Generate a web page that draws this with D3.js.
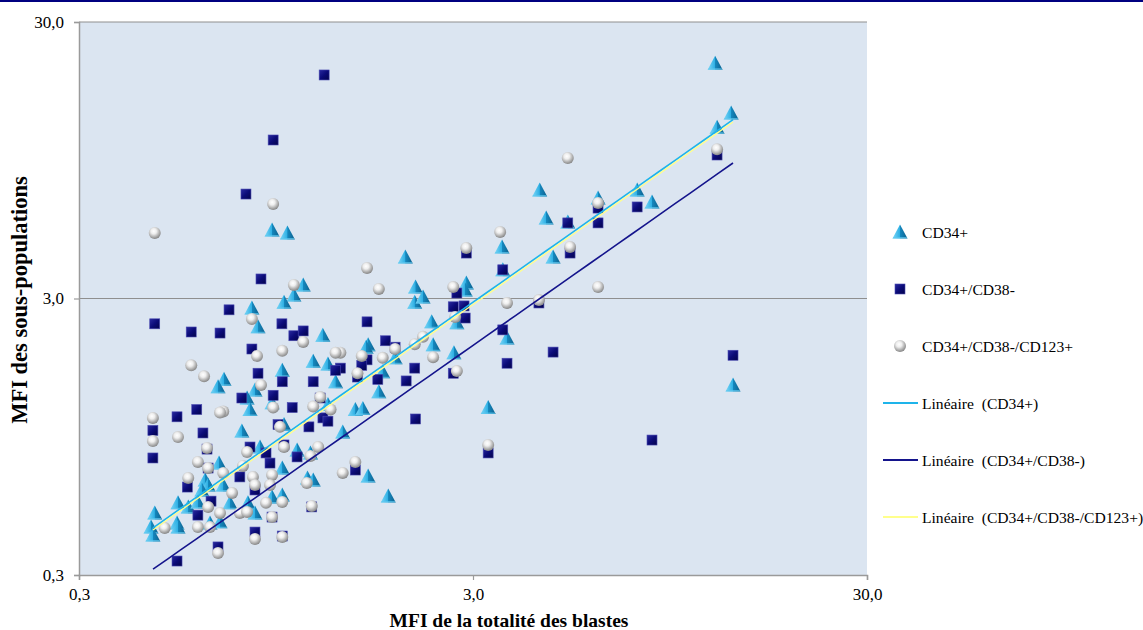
<!DOCTYPE html>
<html>
<head>
<meta charset="utf-8">
<script src="https://cdn.jsdelivr.net/npm/d3@7/dist/d3.min.js"></script>
<style>
  body { margin: 0; background: #ffffff; }
  svg { display: block; }
</style>
</head>
<body>
<svg id="chart" width="1143" height="630"></svg>
<script>
// ---------- DATA ----------
const tickValues = [0.3, 3, 30];
const tickLabels = ["0,3", "3,0", "30,0"];

const seriesNames = ["CD34+", "CD34+/CD38-", "CD34+/CD38-/CD123+"];
const trendNames = ["Linéaire  (CD34+)", "Linéaire  (CD34+/CD38-)", "Linéaire  (CD34+/CD38-/CD123+)"];

// CD34+ : [MFI blastes, MFI sous-population]
const cd34 = [
  [12.35,21.3],[13.56,14.06],[12.49,12.5],[4.43,7.41],[4.60,5.87],[5.22,5.67],[6.23,6.93],
  [7.83,7.41],[8.54,6.70],[4.79,4.24],[3.555,4.61],[3.66,2.16],[13.71,1.46],[3.57,3.81],
  [2.02,4.24],[2.144,3.30],[2.134,2.91],[2.24,3.04],[2.885,3.41],[2.866,3.22],[2.73,2.45],
  [2.356,2.47],[2.376,2.04],[1.625,2.04],[1.903,1.83],[2.683,1.91],[1.77,1.63],[1.73,1.38],
  [1.508,1.19],[1.576,1.20],[3.278,1.21],[1.401,0.987],[1.625,0.684],[1.828,0.579],[0.927,5.31],
  [1.014,5.18],[1.112,3.36],[1.053,3.09],[0.994,2.91],[0.824,2.77],[0.854,2.37],[1.247,2.21],
  [1.179,1.78],[1.285,1.74],[0.984,1.65],[1.344,1.50],[0.700,1.53],[1.606,2.00],[0.676,1.44],
  [0.839,1.40],[0.801,1.31],[0.815,1.19],[0.927,1.26],[1.285,1.24],[0.777,0.995],[0.994,1.05],
  [0.680,0.762],[0.864,0.871],[0.984,0.731],[1.073,0.850],[1.160,0.829],[1.140,0.673],[1.179,0.662],
  [0.627,0.662],[0.638,0.635],[0.697,0.635],[0.615,0.609],[0.535,0.547],[0.568,0.529],
  [0.601,0.551],[0.725,0.547],[0.805,0.547],[0.839,0.503],[0.984,0.584],[0.927,0.574],
  [0.467,0.503],[0.457,0.447],[0.462,0.419],[0.532,0.463],[0.535,0.447],[0.645,0.463],[0.684,0.467]
];

// CD34+/CD38-
const cd34cd38 = [
  [12.49,9.91],[7.83,6.43],[6.23,6.37],[6.23,5.63],[5.22,5.63],[5.29,4.38],[4.41,2.89],
  [3.57,2.31],[3.66,1.75],[4.79,1.92],[13.71,1.87],[8.54,0.923],[3.57,3.81],[2.885,4.38],
  [2.73,3.14],[2.673,2.80],[2.847,2.82],[2.866,2.55],[1.615,2.47],[1.799,2.11],[1.903,2.00],
  [1.615,1.80],[1.566,1.72],[2.134,1.68],[2.03,1.51],[1.72,1.53],[1.527,1.56],[2.673,1.61],
  [2.144,1.10],[3.278,0.829],[1.508,0.719],[1.382,1.68],[1.257,19.3],[0.933,11.23],[0.796,7.16],
  [0.869,3.53],[0.721,2.73],[0.467,2.43],[0.578,2.27],[0.684,2.25],[0.982,2.43],[1.053,2.20],
  [1.112,2.29],[0.824,1.97],[0.854,1.61],[0.984,1.50],[1.179,1.50],[1.344,1.65],[0.933,1.34],
  [0.777,1.31],[0.597,1.19],[0.532,1.12],[1.043,1.21],[1.228,1.31],[0.462,1.00],[0.619,0.979],
  [0.462,0.795],[1.150,1.03],[1.248,1.11],[1.285,1.08],[0.960,1.05],[0.815,0.871],[0.895,0.829],
  [0.916,0.762],[0.994,0.886],[1.073,0.802],[0.634,0.856],[0.638,0.731],[0.768,0.679],
  [0.601,0.494],[0.649,0.555],[0.565,0.624],[0.839,0.609],[0.839,0.429],[0.984,0.415],
  [0.676,0.379],[0.532,0.337],[1.169,0.529],[0.927,0.486]
];

// CD34+/CD38-/CD123+
const cd34cd38cd123 = [
  [12.49,10.4],[5.22,9.67],[6.23,6.65],[5.29,4.61],[6.23,3.30],[4.41,2.96],[3.66,2.89],
  [3.516,5.22],[2.885,4.57],[1.615,3.87],[1.73,3.25],[2.673,3.30],[2.703,2.57],[2.24,2.18],
  [2.134,2.05],[1.903,1.97],[1.77,1.83],[2.376,1.84],[1.566,1.86],[1.527,1.61],[2.73,1.64],
  [3.278,0.886],[1.508,0.769],[1.401,0.702],[1.382,1.91],[0.933,6.59],[0.467,5.18],[1.053,3.36],
  [0.824,2.53],[0.984,1.94],[1.112,2.09],[1.344,1.91],[0.849,1.86],[0.578,1.72],[0.623,1.57],
  [0.869,1.46],[0.697,1.17],[0.684,1.16],[0.933,1.21],[1.179,1.22],[1.228,1.32],[1.305,1.19],
  [0.462,1.11],[0.535,0.946],[0.462,0.915],[0.971,1.03],[0.634,0.864],[0.801,0.835],
  [0.994,0.871],[1.214,0.871],[1.160,0.808],[0.601,0.769],[0.638,0.731],[0.697,0.702],
  [0.829,0.679],[0.927,0.690],[0.568,0.673],[0.782,0.744],[1.136,0.645],[0.839,0.635],
  [0.916,0.635],[0.734,0.594],[0.638,0.529],[0.684,0.503],[0.768,0.503],[0.801,0.507],
  [0.895,0.547],[0.984,0.551],[1.169,0.533],[0.495,0.444],[0.601,0.447],[0.645,0.447],
  [0.927,0.486],[0.839,0.405],[0.984,0.412],[0.676,0.360]
];

// Linear trendlines y = slope * x + intercept
const trendSlopes = [0.971, 0.676, 0.952];
const trendIntercepts = [-0.005, 0.0024, -0.0037];
const trendXRange = [0.4624, 13.71];

// ---------- CHART ----------
const W = 1143, H = 630;
const FONT = "'Liberation Serif', 'Times New Roman', serif";
const svg = d3.select("#chart");
const x = d3.scaleLog().domain([0.3, 30]).range([79, 867]);
const y = d3.scaleLog().domain([0.3, 30]).range([575, 22]);

const defs = svg.append("defs");
const tg = defs.append("linearGradient").attr("id", "triG").attr("x1", "0").attr("x2", "1").attr("y1", "0").attr("y2", "0");
tg.append("stop").attr("offset", "0").attr("stop-color", "#7fd8f8");
tg.append("stop").attr("offset", "0.48").attr("stop-color", "#2fb0e4");
tg.append("stop").attr("offset", "0.52").attr("stop-color", "#1587bd");
tg.append("stop").attr("offset", "1").attr("stop-color", "#0c5f8c");
const sg = defs.append("linearGradient").attr("id", "sqG").attr("x1", "0").attr("x2", "1").attr("y1", "0").attr("y2", "1");
sg.append("stop").attr("offset", "0").attr("stop-color", "#2a2aa0");
sg.append("stop").attr("offset", "0.5").attr("stop-color", "#0b0b78");
sg.append("stop").attr("offset", "1").attr("stop-color", "#04044a");
const bg = defs.append("radialGradient").attr("id", "sphG").attr("cx", "0.42").attr("cy", "0.36").attr("r", "0.65");
bg.append("stop").attr("offset", "0").attr("stop-color", "#ffffff");
bg.append("stop").attr("offset", "0.35").attr("stop-color", "#eeeeee");
bg.append("stop").attr("offset", "0.8").attr("stop-color", "#a4a4a4");
bg.append("stop").attr("offset", "1").attr("stop-color", "#858585");

// top navy rule
svg.append("rect").attr("x", 0).attr("y", 0).attr("width", W).attr("height", 2).attr("fill", "#000080");

// plot area
svg.append("rect")
  .attr("x", x(0.3)).attr("y", y(30))
  .attr("width", x(30) - x(0.3)).attr("height", y(0.3) - y(30))
  .attr("fill", "#dbe5f1");

// horizontal gridlines
svg.append("g").selectAll("line").data(tickValues.slice(1)).join("line")
  .attr("x1", x(0.3)).attr("x2", x(30))
  .attr("y1", d => y(d)).attr("y2", d => y(d))
  .attr("stroke", "#8f8f8f").attr("stroke-width", 1.2);

const fmt = d => tickLabels[tickValues.indexOf(d)];

const yAxis = svg.append("g").attr("transform", `translate(${x(0.3)},0)`)
  .call(d3.axisLeft(y).tickValues(tickValues).tickFormat(fmt).tickSize(5).tickPadding(10));
const xAxis = svg.append("g").attr("transform", `translate(0,${y(0.3)})`)
  .call(d3.axisBottom(x).tickValues(tickValues).tickFormat(fmt).tickSize(5).tickPadding(8));
[xAxis, yAxis].forEach(g => {
  g.attr("font-family", FONT);
  g.select(".domain").attr("stroke", "#9a9a9a").attr("stroke-width", 1.5);
  g.selectAll(".tick line").attr("stroke", "#9a9a9a").attr("stroke-width", 1.2);
  g.selectAll(".tick text").attr("fill", "#000").attr("font-size", "17px").attr("font-family", FONT);
});

// marker drawers
function drawTri(g) {
  g.append("path").attr("d", "M0,-7.5L7.5,6.5L-7.5,6.5Z").attr("fill", "url(#triG)");
  g.append("path").attr("d", "M-7.5,6.5L7.5,6.5L6.5,5L-6.5,5Z").attr("fill", "#5fc8ee").attr("opacity", 0.7);
}
function drawSq(g) {
  g.append("rect").attr("x", -5).attr("y", -5).attr("width", 10).attr("height", 10)
    .attr("fill", "url(#sqG)").attr("stroke", "#4a4ab0").attr("stroke-width", 0.6);
}
function drawSph(g) {
  g.append("circle").attr("r", 6).attr("fill", "url(#sphG)");
}

const layers = [
  { data: cd34, draw: drawTri },
  { data: cd34cd38, draw: drawSq },
  { data: cd34cd38cd123, draw: drawSph }
];
layers.forEach(L => {
  const g = svg.append("g");
  g.selectAll("g").data(L.data).join("g")
    .attr("transform", d => `translate(${x(d[0])},${y(d[1])})`)
    .each(function() { L.draw(d3.select(this)); });
});

// trendlines
const trendColors = ["#1eb4ea", "#14148c", "#ffff8c"];
const trendWidths = [1.6, 1.6, 1.4];
const samples = d3.range(0, 41).map(i => trendXRange[0] * Math.pow(trendXRange[1] / trendXRange[0], i / 40));
const line = d3.line().x(d => x(d[0])).y(d => y(d[1]));
trendSlopes.forEach((s, i) => {
  const pts = samples.map(v => [v, s * v + trendIntercepts[i]]);
  svg.append("path").attr("d", line(pts)).attr("fill", "none")
    .attr("stroke", trendColors[i]).attr("stroke-width", trendWidths[i]);
});

// legend
const legend = svg.append("g").attr("font-family", FONT);
const legY = [232, 289, 346, 403, 460, 517];
const drawers = [drawTri, drawSq, drawSph];
seriesNames.forEach((n, i) => {
  const g = legend.append("g").attr("transform", `translate(900,${legY[i]})`);
  drawers[i](g);
  legend.append("text").attr("x", 922).attr("y", legY[i] + 5.5).attr("font-size", "15.6px")
    .attr("font-family", FONT).attr("fill", "#000").text(n);
});
trendNames.forEach((n, i) => {
  const yy = legY[i + 3];
  legend.append("line").attr("x1", 883).attr("x2", 918).attr("y1", yy).attr("y2", yy)
    .attr("stroke", trendColors[i]).attr("stroke-width", 2);
  legend.append("text").attr("x", 922).attr("y", yy + 5.5).attr("font-size", "15.6px")
    .attr("font-family", FONT).attr("fill", "#000")
    .style("white-space", "pre").text(n);
});

// axis titles
svg.append("text").attr("x", 509).attr("y", 627).attr("text-anchor", "middle")
  .attr("font-family", FONT).attr("font-size", "19.5px").attr("font-weight", "bold").attr("fill", "#000")
  .text("MFI de la totalité des blastes");
svg.append("text").attr("transform", "translate(27,300) rotate(-90)").attr("text-anchor", "middle")
  .attr("font-family", FONT).attr("font-size", "22.5px").attr("font-weight", "bold").attr("fill", "#000")
  .text("MFI des sous-populations");
</script>
</body>
</html>
